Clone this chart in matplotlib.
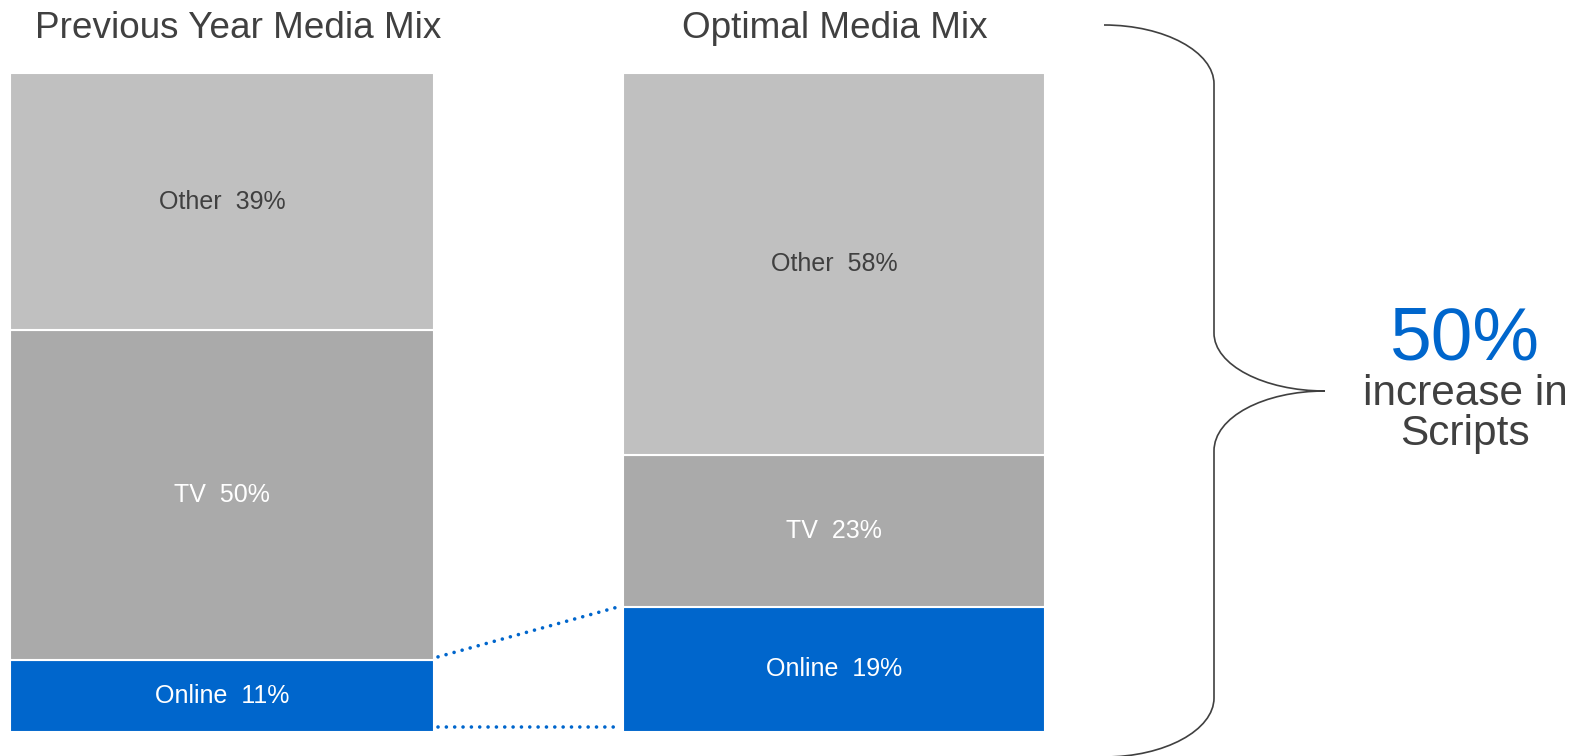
import numpy as np
import matplotlib.pyplot as plt
from matplotlib.path import Path
from matplotlib.patches import PathPatch

plt.rcParams['font.family'] = ['Liberation Sans', 'DejaVu Sans']

# Data
mixes = ["Previous Year Media Mix", "Optimal Media Mix"]
channels = ["Online", "TV", "Other"]
online = [11, 19]
tv = [50, 23]
other = [39, 58]
uplift = "50%"

colors = {"Online": "#0066CC", "TV": "#AAAAAA", "Other": "#C0C0C0"}
text_colors = {"Online": "white", "TV": "white", "Other": "#404040"}
dark = "#404040"

W, H = 1583, 756
fig = plt.figure(figsize=(W / 100, H / 100), dpi=100)

# bars live in an axes whose x is pixels and y is percent
bar_top_px, bar_bot_px = 73, 732
scale = (bar_bot_px - bar_top_px) / 100.0
ax = fig.add_axes([0, 0, 1, 1])
ax.set_xlim(0, W)
ax.set_ylim(-(H - bar_bot_px) / scale, 100 + bar_top_px / scale)
ax.axis("off")

centers = [222, 834]
widths = [424, 422]
values = {"Online": online, "TV": tv, "Other": other}

bottom = np.zeros(2)
for ch in channels:
    v = np.array(values[ch], dtype=float)
    ax.bar(centers, v, width=widths, bottom=bottom, color=colors[ch],
           edgecolor="white", linewidth=1.5, zorder=2)
    for i in range(2):
        ax.text(centers[i], bottom[i] + v[i] / 2, f"{ch}  {values[ch][i]}%",
                ha="center", va="center", fontsize=18, color=text_colors[ch], zorder=3)
    bottom += v

# dotted connectors between the online segments
x_left = centers[0] + widths[0] / 2
x_right = centers[1] - widths[1] / 2
dot = dict(color="#0066CC", linewidth=2.6, linestyle=(0, (0.01, 2.3)),
           dash_capstyle="round", zorder=1)
ax.plot([x_left + 4, x_right - 2], [online[0] + 0.4, online[1] + 0.1], **dot)
ax.plot([x_left + 4, x_right - 2], [0.8, 0.8], **dot)

# overlay axes in pixel coords for titles, brace and callout
ax2 = fig.add_axes([0, 0, 1, 1])
ax2.set_xlim(0, W)
ax2.set_ylim(H, 0)
ax2.axis("off")
ax2.patch.set_alpha(0)

ax2.text(238, 38, mixes[0], ha="center", va="baseline", fontsize=26.6, color=dark)
ax2.text(835, 38, mixes[1], ha="center", va="baseline", fontsize=26.6, color=dark)

# curly brace
xs, xv, xt = 1104, 1214, 1325
yt, ym, yb = 25, 391, 757
verts = [
    (xs, yt), (xs + 61, yt), (xv, yt + 27), (xv, yt + 59),
    (xv, ym - 58),
    (xv, ym - 26), (xt - 61, ym), (xt, ym),
    (xt - 61, ym), (xv, ym + 26), (xv, ym + 60),
    (xv, yb - 59),
    (xv, yb - 27), (xs + 61, yb), (xs, yb),
]
codes = [Path.MOVETO, Path.CURVE4, Path.CURVE4, Path.CURVE4,
         Path.LINETO,
         Path.CURVE4, Path.CURVE4, Path.CURVE4,
         Path.CURVE4, Path.CURVE4, Path.CURVE4,
         Path.LINETO,
         Path.CURVE4, Path.CURVE4, Path.CURVE4]
ax2.add_patch(PathPatch(Path(verts, codes), facecolor="none", edgecolor=dark, linewidth=1.2))

ax2.text(1465, 359, uplift, ha="center", va="baseline", fontsize=54, color="#0066CC")
ax2.text(1465, 405, "increase in", ha="center", va="baseline", fontsize=30.5, color=dark)
ax2.text(1465, 445, "Scripts", ha="center", va="baseline", fontsize=30.5, color=dark)

fig.savefig("out.png", dpi=100)
plt.close()
